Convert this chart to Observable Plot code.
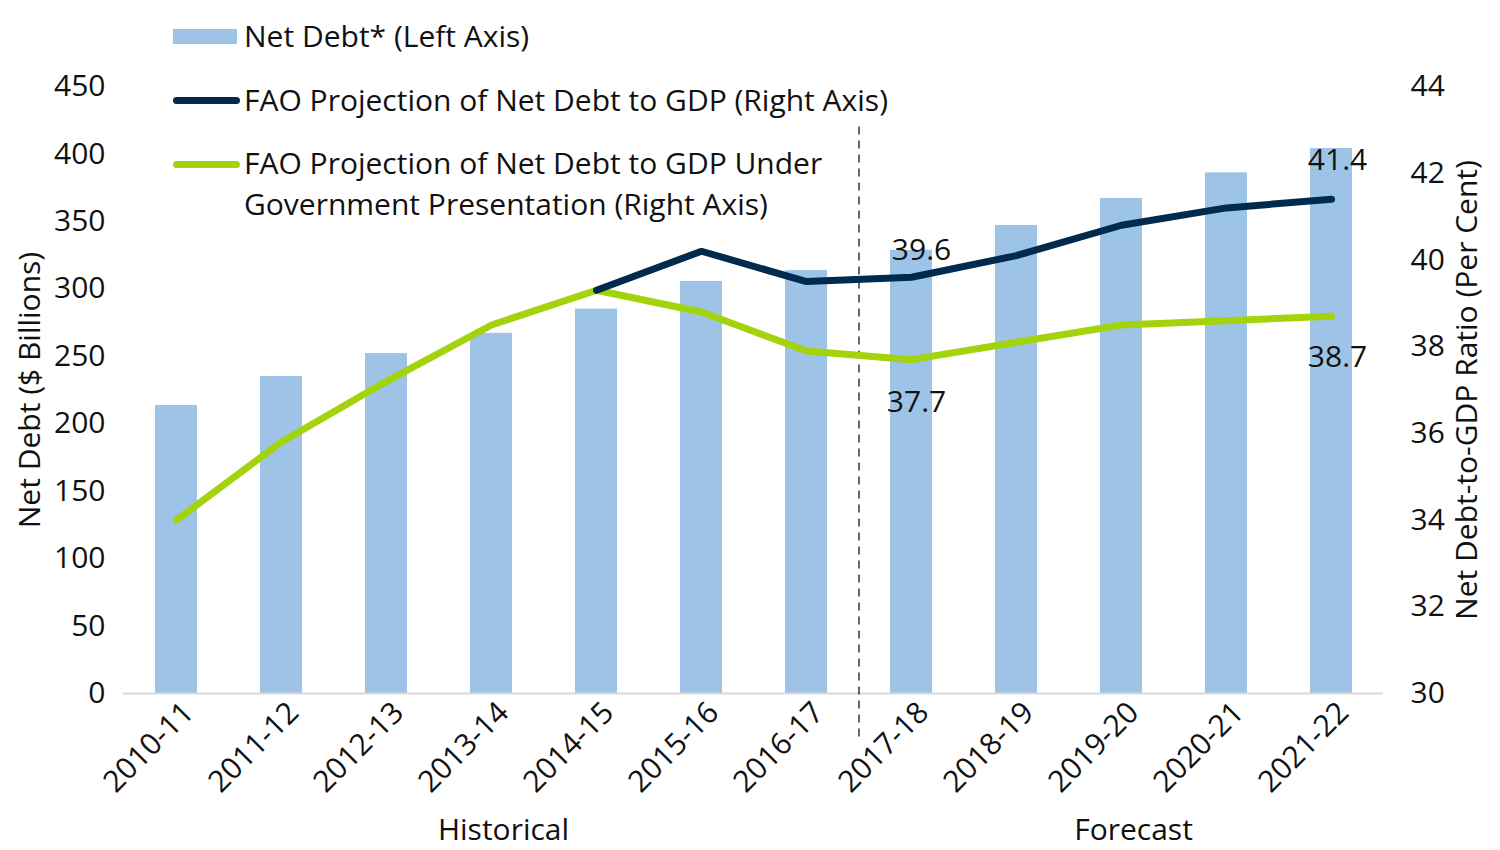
<!DOCTYPE html>
<html>
<head>
<meta charset="utf-8">
<script src="https://cdn.jsdelivr.net/npm/d3@7"></script>
<script src="https://cdn.jsdelivr.net/npm/@observablehq/plot@0.6"></script>
<style>
  html, body { margin: 0; padding: 0; background: #fff; }
  #wrap { position: relative; width: 1500px; height: 850px; font-family: "Open Sans", sans-serif; }
  #legend { position: absolute; left: 0; top: 0; font-size: 30px; color: #111; }
  .item { position: absolute; left: 173px; white-space: nowrap; }
  .sw { position: absolute; left: 0; }
  .txt { position: absolute; left: 71px; line-height: 35px; }
</style>
</head>
<body>
<div id="wrap">
  <div id="chart"></div>
  <div id="legend"></div>
</div>
<script>
const years = ["2010-11","2011-12","2012-13","2013-14","2014-15","2015-16","2016-17","2017-18","2018-19","2019-20","2020-21","2021-22"];
const netDebt = [213.5, 235, 252, 267, 285, 305.5, 313.5, 328.5, 347, 367, 386, 404];
const faoRatio = [null, null, null, null, 39.3, 40.2, 39.5, 39.6, 40.1, 40.8, 41.2, 41.4];
const govRatio = [34.0, 35.8, 37.2, 38.5, 39.3, 38.8, 37.9, 37.7, 38.1, 38.5, 38.6, 38.7];
const leftTicks = [0, 50, 100, 150, 200, 250, 300, 350, 400, 450];
const rightTicks = [30, 32, 34, 36, 38, 40, 42, 44];
const leftTitle = "Net Debt ($ Billions)";
const rightTitle = "Net Debt-to-GDP Ratio (Per Cent)";
const periods = [{year: "2013-14", label: "Historical"}, {year: "2019-20", label: "Forecast"}];
const dividerYear = "2017-18";
const seriesNames = [
  ["Net Debt* (Left Axis)"],
  ["FAO Projection of Net Debt to GDP (Right Axis)"],
  ["FAO Projection of Net Debt to GDP Under", "Government Presentation (Right Axis)"]
];

const barColor = "#9dc3e6", darkColor = "#002a4e", greenColor = "#a3d30d";
const FS = 30;

// right axis [30,44] mapped onto left domain [0,450]
const rMin = 30, rMax = 44, lMax = 450;
const toLeft = v => (v - rMin) / (rMax - rMin) * lMax;
const fromLeft = v => v / lMax * (rMax - rMin) + rMin;

const bars = years.map((y, i) => ({year: y, value: netDebt[i]}));
const fao = years.map((y, i) => ({year: y, value: faoRatio[i]})).filter(d => d.value != null);
const gov = years.map((y, i) => ({year: y, value: govRatio[i]}));

const lastF = fao[fao.length - 1], lastG = gov[gov.length - 1];
const f1718 = fao.find(d => d.year === "2017-18"), g1718 = gov.find(d => d.year === "2017-18");

const chart = Plot.plot({
  width: 1500,
  height: 850,
  marginLeft: 123,
  marginRight: 117,
  marginTop: 86,
  marginBottom: 157,
  style: {fontFamily: "Open Sans, sans-serif", fontSize: FS + "px", color: "#111", background: "#fff"},
  x: {domain: years, paddingInner: 0.6, paddingOuter: 0.3, label: null},
  y: {domain: [0, lMax], label: null},
  marks: [
    Plot.barY(bars, {x: "year", y: "value", fill: barColor}),
    Plot.ruleY([0], {stroke: "#d9d9d9", strokeWidth: 2}),
    Plot.ruleX([dividerYear], {x: d => d, y1: 420, y2: -35, dx: -52.5, stroke: "#1f3a5a", strokeWidth: 1.5, strokeDasharray: "8,6", clip: false}),
    Plot.line(gov, {x: "year", y: d => toLeft(d.value), stroke: greenColor, strokeWidth: 7, strokeLinecap: "round", strokeLinejoin: "miter"}),
    Plot.line(fao, {x: "year", y: d => toLeft(d.value), stroke: darkColor, strokeWidth: 7, strokeLinecap: "round", strokeLinejoin: "miter"}),
    Plot.text([f1718], {x: "year", y: d => toLeft(d.value), text: d => d.value.toFixed(1), dx: 10, dy: -27, fontSize: FS, fill: "#111"}),
    Plot.text([g1718], {x: "year", y: d => toLeft(d.value), text: d => d.value.toFixed(1), dx: 5, dy: 43, fontSize: FS, fill: "#111"}),
    Plot.text([lastF], {x: "year", y: d => toLeft(d.value), text: d => d.value.toFixed(1), dx: 6, dy: -39, fontSize: FS, fill: "#111"}),
    Plot.text([lastG], {x: "year", y: d => toLeft(d.value), text: d => d.value.toFixed(1), dx: 6, dy: 41, fontSize: FS, fill: "#111"}),
    Plot.axisY(leftTicks, {anchor: "left", tickSize: 0, tickPadding: 18, fontSize: FS, label: null}),
    Plot.axisY(rightTicks.map(toLeft), {anchor: "right", tickSize: 0, tickPadding: 27, fontSize: FS, label: null, tickFormat: d => String(Math.round(fromLeft(d)))}),
    Plot.axisX({tickSize: 0, tickRotate: -45, tickPadding: 14, dx: 12, fontSize: FS, label: null}),
    Plot.text([leftTitle], {frameAnchor: "left", textAnchor: "middle", dx: -93, rotate: -90, fontSize: FS, fill: "#111", text: d => d}),
    Plot.text([rightTitle], {frameAnchor: "right", textAnchor: "middle", dx: 84, rotate: -90, fontSize: FS, fill: "#111", text: d => d}),
    Plot.text(periods, {x: "year", text: "label", frameAnchor: "bottom", lineAnchor: "middle", dx: 12, dy: 137, fontSize: FS, fill: "#111"})
  ]
});
document.getElementById("chart").appendChild(chart);

// legend
const legend = document.getElementById("legend");
const rows = [
  {top: 18, sw: `<div class="sw" style="top:11px;width:64px;height:15px;background:${barColor}"></div>`},
  {top: 82, sw: `<div class="sw" style="top:15px;width:67px;height:7px;border-radius:4px;background:${darkColor}"></div>`},
  {top: 145, sw: `<div class="sw" style="top:16px;width:67px;height:7px;border-radius:4px;background:${greenColor}"></div>`}
];
rows.forEach((r, i) => {
  const div = document.createElement("div");
  div.className = "item";
  div.style.top = r.top + "px";
  div.innerHTML = r.sw + seriesNames[i].map((t, j) => `<div class="txt" style="top:${j * 41}px">${t}</div>`).join("");
  legend.appendChild(div);
});
</script>
</body>
</html>
